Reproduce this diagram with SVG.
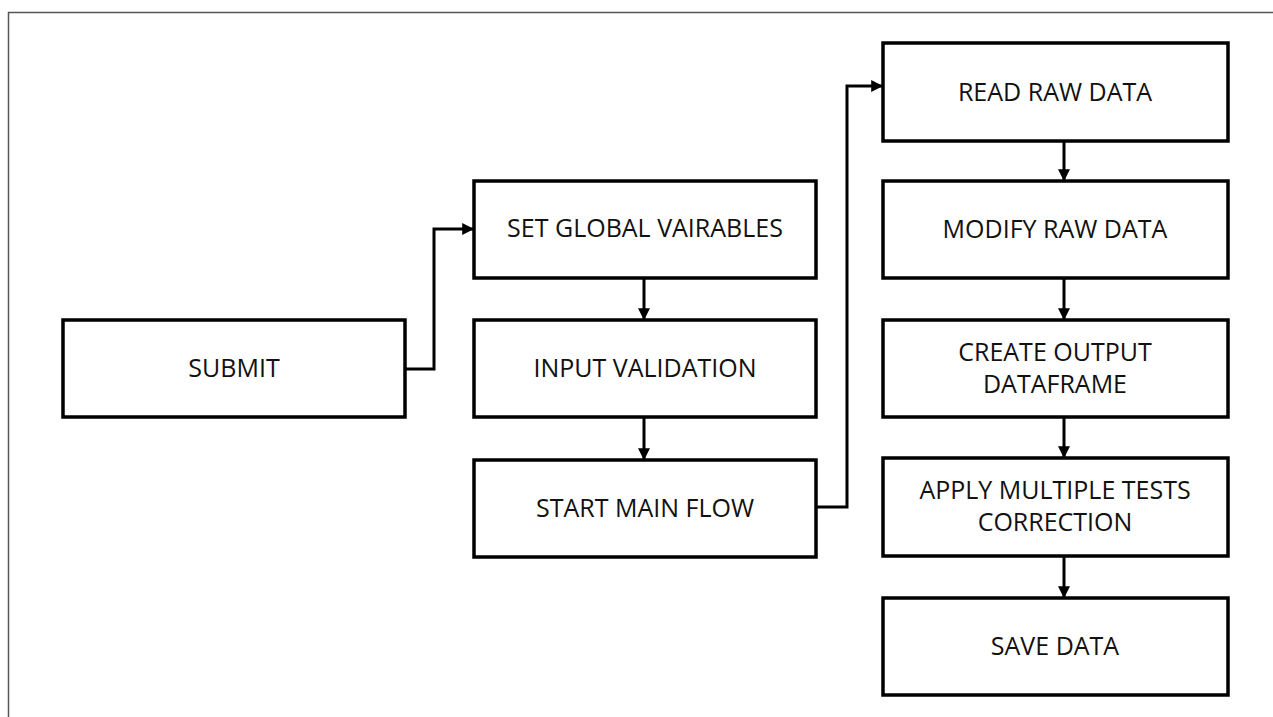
<svg xmlns="http://www.w3.org/2000/svg" width="1273" height="717" viewBox="0 0 1273 717">
<style>
.box{fill:#fff;stroke:#000;stroke-width:3.5}
.t{font-family:"Open Sans","Liberation Sans",sans-serif;font-size:25px;fill:#111;text-anchor:middle}
.c{fill:none;stroke:#000;stroke-width:3}
</style>
<defs>
<marker id="ah" viewBox="0 0 10 10" refX="9" refY="5" markerWidth="4" markerHeight="4" orient="auto" markerUnits="strokeWidth">
<path d="M0,0 L10,5 L0,10 z" fill="#000"/>
</marker>
</defs>
<rect width="1273" height="717" fill="#fff"/>
<path d="M8.5,717 V12.5 H1273" fill="none" stroke="#555" stroke-width="1.5"/>
<g id="submit"><rect class="box" x="63" y="320" width="342" height="97"/><text class="t" x="234" y="377">SUBMIT</text></g>
<g id="setglobal"><rect class="box" x="474" y="181" width="342" height="97"/><text class="t" x="645" y="237">SET GLOBAL VAIRABLES</text></g>
<g id="inputvalidation"><rect class="box" x="474" y="320" width="342" height="97"/><text class="t" x="645" y="377">INPUT VALIDATION</text></g>
<g id="startmain"><rect class="box" x="474" y="460" width="342" height="97"/><text class="t" x="645" y="517">START MAIN FLOW</text></g>
<g id="readraw"><rect class="box" x="883" y="43" width="345" height="98"/><text class="t" x="1055" y="101">READ RAW DATA</text></g>
<g id="modifyraw"><rect class="box" x="883" y="181" width="345" height="97"/><text class="t" x="1055" y="238">MODIFY RAW DATA</text></g>
<g id="createoutput"><rect class="box" x="883" y="320" width="345" height="97"/><text class="t" x="1055" y="361">CREATE OUTPUT</text><text class="t" x="1055" y="393">DATAFRAME</text></g>
<g id="applymultiple"><rect class="box" x="883" y="458" width="345" height="98"/><text class="t" x="1055" y="499">APPLY MULTIPLE TESTS</text><text class="t" x="1055" y="531">CORRECTION</text></g>
<g id="savedata"><rect class="box" x="883" y="598" width="345" height="97"/><text class="t" x="1055" y="655">SAVE DATA</text></g>
<g id="connectors">
<path class="c" d="M405,369 H434 V229 H473" marker-end="url(#ah)"/>
<path class="c" d="M644,278 V319" marker-end="url(#ah)"/>
<path class="c" d="M644,417 V459" marker-end="url(#ah)"/>
<path class="c" d="M816,507 H847 V86 H882" marker-end="url(#ah)"/>
<path class="c" d="M1064,141 V180" marker-end="url(#ah)"/>
<path class="c" d="M1064,278 V319" marker-end="url(#ah)"/>
<path class="c" d="M1064,417 V457" marker-end="url(#ah)"/>
<path class="c" d="M1064,556 V597" marker-end="url(#ah)"/>
</g>
</svg>
